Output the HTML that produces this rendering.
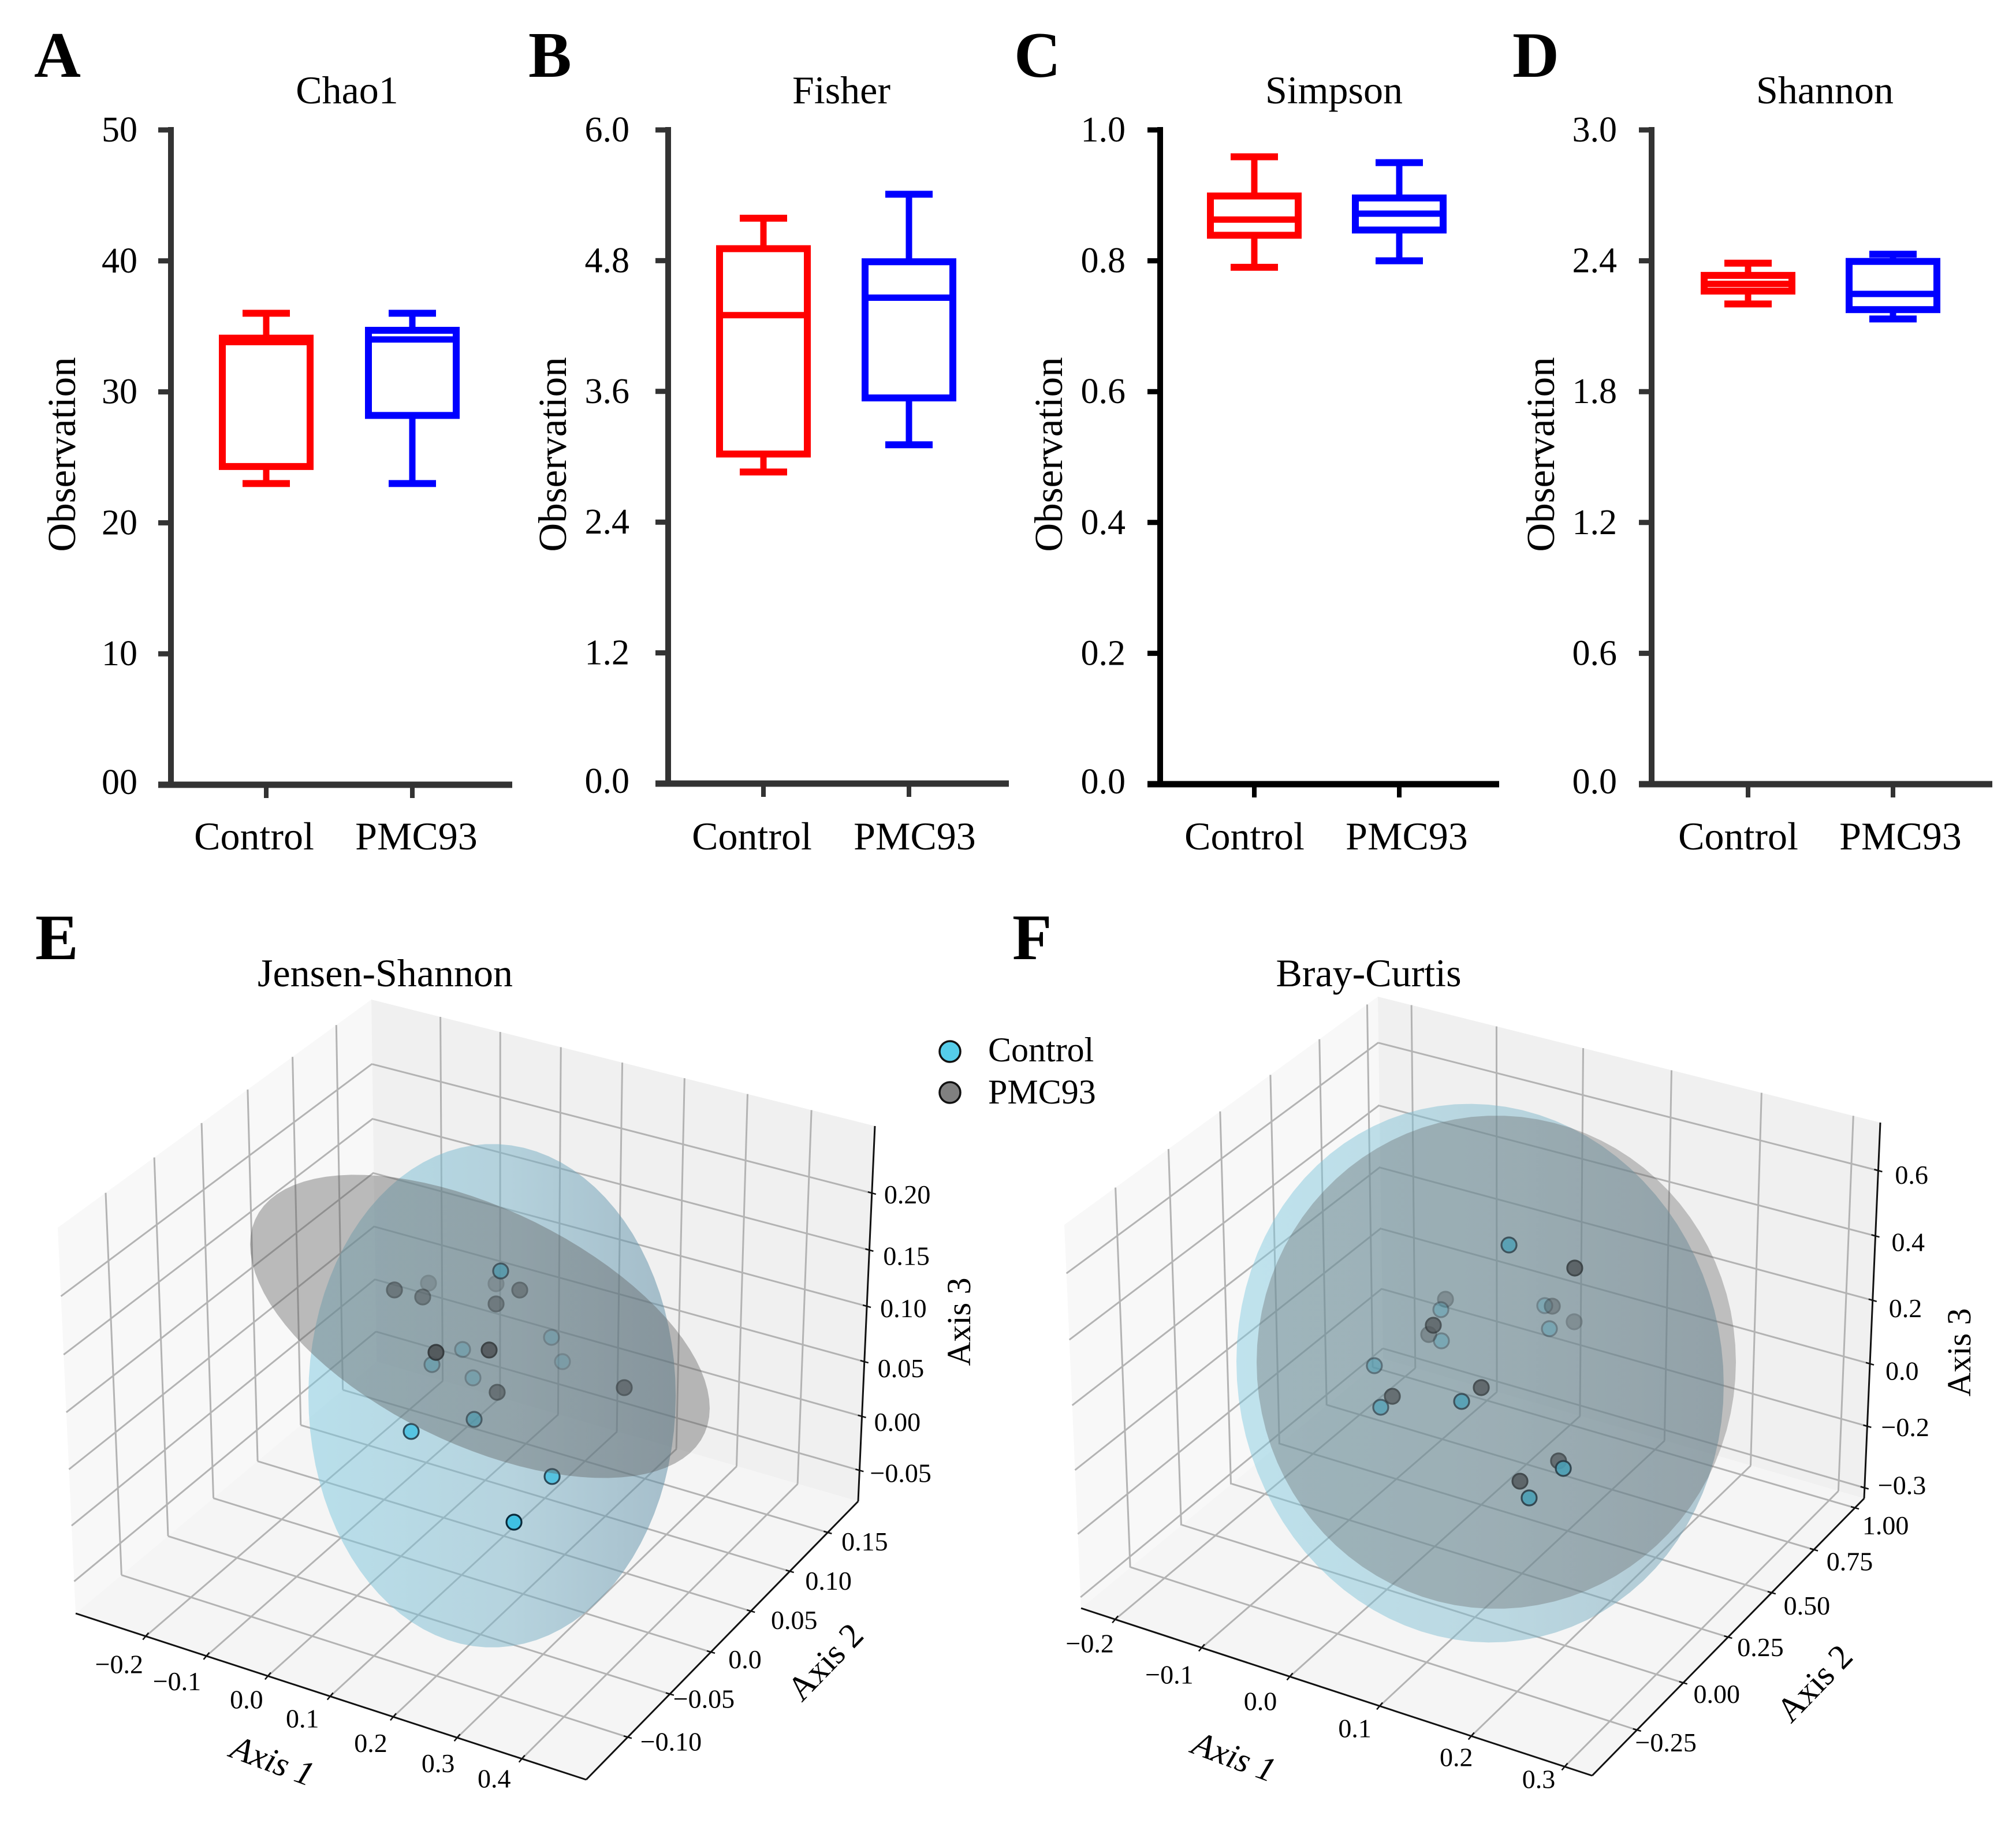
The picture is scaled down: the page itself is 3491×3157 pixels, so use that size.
<!DOCTYPE html>
<html lang="en">
<head>
<meta charset="utf-8">
<title>Alpha and beta diversity: Control vs PMC93</title>
<style>
html,body{margin:0;padding:0;background:#fff}
svg{display:block}
text{font-family:"Liberation Serif","DejaVu Serif",serif;fill:#000}
.letter{font-size:112px;font-weight:bold}
.title{font-size:68px;text-anchor:middle}
.ylab{font-size:69px;text-anchor:middle}
.xcat{font-size:68px;text-anchor:middle}
.ytick{font-size:62px;text-anchor:end}
.t3d{font-size:46px}
.a3d{font-size:60px;text-anchor:middle;dominant-baseline:central}
.leg{font-size:60px}
</style>
</head>
<body>
<svg id="figure" xmlns="http://www.w3.org/2000/svg" width="3491" height="3157" viewBox="0 0 3491 3157">
<defs>
<linearGradient id="blueFillE"><stop offset="0" stop-color="#7cc9e0" stop-opacity=".5"/><stop offset=".55" stop-color="#7cb4c9" stop-opacity=".52"/><stop offset="1" stop-color="#5c8ba3" stop-opacity=".52"/></linearGradient>
<linearGradient id="grayFillE"><stop offset="0" stop-color="#5c5c5c" stop-opacity=".4"/><stop offset="1" stop-color="#5c5c5c" stop-opacity=".4"/></linearGradient>
<linearGradient id="blueFillF"><stop offset="0" stop-color="#7cc9e0" stop-opacity=".46"/><stop offset=".55" stop-color="#7cb8cc" stop-opacity=".48"/><stop offset="1" stop-color="#6a98ad" stop-opacity=".5"/></linearGradient>
<linearGradient id="grayFillF"><stop offset="0" stop-color="#616161" stop-opacity=".35"/><stop offset="1" stop-color="#616161" stop-opacity=".35"/></linearGradient>
</defs>
<rect width="3491" height="3157" fill="#fff"/>

<text class="letter" x="59" y="133">A</text>
<text class="letter" x="915" y="133">B</text>
<text class="letter" x="1756" y="133">C</text>
<text class="letter" x="2619" y="133">D</text>
<text class="letter" x="61" y="1661">E</text>
<text class="letter" x="1753" y="1661">F</text>

<text class="title" x="601" y="179">Chao1</text>
<text class="title" x="1457" y="179">Fisher</text>
<text class="title" x="2310" y="179">Simpson</text>
<text class="title" x="3160" y="179">Shannon</text>
<text class="title" x="667" y="1708">Jensen-Shannon</text>
<text class="title" x="2370" y="1708">Bray-Curtis</text>

<text class="ylab" transform="translate(130 787) rotate(-90)">Observation</text>
<text class="ylab" transform="translate(980 787) rotate(-90)">Observation</text>
<text class="ylab" transform="translate(1839 787) rotate(-90)">Observation</text>
<text class="ylab" transform="translate(2691 787) rotate(-90)">Observation</text>

<g id="boxLayer"></g>
<g id="layer3d"></g>

<text class="a3d" font-style="italic" transform="translate(472 3049) rotate(20.5)">Axis 1</text>
<text class="a3d" transform="translate(1429 2878) rotate(-46)">Axis 2</text>
<text class="a3d" style="font-size:58px;dominant-baseline:auto" transform="translate(1680 2289) rotate(-90)">Axis 3</text>
<text class="a3d" font-style="italic" transform="translate(2137 3042) rotate(20.5)">Axis 1</text>
<text class="a3d" transform="translate(3142 2915) rotate(-46)">Axis 2</text>
<text class="a3d" style="font-size:58px;dominant-baseline:auto" transform="translate(3412 2342) rotate(-90)">Axis 3</text>

<g>
<circle cx="1645" cy="1821" r="18" fill="#55cdea" stroke="#111" stroke-width="3.5"/>
<text class="leg" x="1711" y="1838">Control</text>
<circle cx="1645" cy="1892" r="18" fill="#808080" stroke="#111" stroke-width="3.5"/>
<text class="leg" x="1711" y="1911">PMC93</text>
</g>
</svg>

<script>
/* ---------- Box plot data: [low whisker, Q1, median, Q3, high whisker] ---------- */
const boxCategories = ['Control', 'PMC93'];
const chao1Control = [23, 24.3, 33.8, 34.1, 36];
const chao1Pmc93 = [23, 28.2, 34, 34.7, 36];
const fisherControl = [2.86, 3.025, 4.30, 4.91, 5.19];
const fisherPmc93 = [3.11, 3.54, 4.46, 4.79, 5.41];
const simpsonControl = [0.79, 0.839, 0.863, 0.899, 0.959];
const simpsonPmc93 = [0.80, 0.847, 0.872, 0.896, 0.95];
const shannonControl = [2.202, 2.261, 2.294, 2.333, 2.389];
const shannonPmc93 = [2.133, 2.176, 2.248, 2.397, 2.43];
const chao1Ticks = [0, 10, 20, 30, 40, 50];
const chao1TickLabels = ['00', '10', '20', '30', '40', '50'];
const fisherTicks = [0, 1.2, 2.4, 3.6, 4.8, 6];
const fisherTickLabels = ['0.0', '1.2', '2.4', '3.6', '4.8', '6.0'];
const simpsonTicks = [0, 0.2, 0.4, 0.6, 0.8, 1];
const simpsonTickLabels = ['0.0', '0.2', '0.4', '0.6', '0.8', '1.0'];
const shannonTicks = [0, 0.6, 1.2, 1.8, 2.4, 3];
const shannonTickLabels = ['0.0', '0.6', '1.2', '1.8', '2.4', '3.0'];

/* ---------- Jensen-Shannon ordination ---------- */
const jsControlAxis1 = [0.2335, 0.0850, 0.0770, -0.0314, -0.0292, -0.0148, 0.1162, 0.1656, 0.3411, 0.3823];
const jsControlAxis2 = [-0.04, 0.14, 0.16, 0.12, 0.08, 0.12, -0.06, -0.02, -0.06, -0.14];
const jsControlAxis3 = [0.2493, 0.0288, -0.0093, 0.0111, 0.0276, -0.0113, 0.0982, 0.0886, 0.0995, 0.1254];
const jsPmcAxis1 = [-0.0381, -0.1368, -0.0185, -0.0290, 0.1364, 0.0986, 0.2068, 0.2661, 0.1514, 0.3542];
const jsPmcAxis2 = [0.04, 0.16, 0.06, 0.16, 0.06, 0.06, -0.10, -0.08, 0.02, 0.02];
const jsPmcAxis3 = [0.1226, 0.0215, 0.1051, 0.0410, 0.1401, 0.1206, 0.2157, 0.2140, 0.0807, 0.1225];
const jsAxis1Ticks = [-0.2, -0.1, 0, 0.1, 0.2, 0.3, 0.4];
const jsAxis1Labels = ['−0.2', '−0.1', '0.0', '0.1', '0.2', '0.3', '0.4'];
const jsAxis2Ticks = [-0.10, -0.05, 0, 0.05, 0.10, 0.15];
const jsAxis2Labels = ['−0.10', '−0.05', '0.0', '0.05', '0.10', '0.15'];
const jsAxis3Ticks = [-0.05, 0, 0.05, 0.10, 0.15, 0.20];
const jsAxis3Labels = ['−0.05', '0.00', '0.05', '0.10', '0.15', '0.20'];
/* ellipsoid silhouettes: [centre axis1, centre axis3, u axis1, u axis3, v axis1, v axis3] */
const jsControlEllipsoid = [0.1687, 0.0956, 0.2931, 0.0544, 0, 0.2261];
const jsPmcEllipsoid = [0.1493, 0.1543, 0.3668, -0.0055, 0, 0.1146];

/* ---------- Bray-Curtis ordination ---------- */
const brayControlAxis1 = [0.1582, 0.0231, 0.0477, -0.0731, -0.0725, -0.0888, -0.0234, 0.1055, 0.2575, 0.2195];
const brayControlAxis2 = [-0.05, 0.85, 0.75, 0.75, 0.75, 0.45, 0.15, -0.05, -0.25, -0.25];
const brayControlAxis3 = [0.8290, 0.0123, 0.0180, -0.0321, -0.1296, -0.0548, 0.0419, 0.2893, 0.3290, 0.2018];
const brayPmcAxis1 = [-0.0874, 0.0351, -0.0866, 0.0509, 0.0364, 0.2314, -0.0105, 0.1079, 0.1745, 0.1704];
const brayPmcAxis2 = [0.85, 0.15, 0.75, 0.75, 0.95, -0.05, 0.15, 0.05, 0.15, -0.05];
const brayPmcAxis3 = [-0.0684, 0.3528, -0.1225, 0.0918, -0.0822, 0.8232, 0.0880, 0.2791, 0.0534, 0.0978];
const brayAxis1Ticks = [-0.2, -0.1, 0, 0.1, 0.2, 0.3];
const brayAxis1Labels = ['−0.2', '−0.1', '0.0', '0.1', '0.2', '0.3'];
const brayAxis2Ticks = [-0.25, 0, 0.25, 0.5, 0.75, 1];
const brayAxis2Labels = ['−0.25', '0.00', '0.25', '0.50', '0.75', '1.00'];
const brayAxis3Ticks = [-0.4, -0.2, 0, 0.2, 0.4, 0.6];
const brayAxis3Labels = ['−0.3', '−0.2', '0.0', '0.2', '0.4', '0.6'];
const brayControlEllipsoid = [0.1163, 0.3601, 0.2712, 0.2107, 0, 0.8457];
const brayPmcEllipsoid = [0.1343, 0.4109, 0.2667, 0.2430, 0, 0.7750];

/* ---------- helpers ---------- */
const NS = 'http://www.w3.org/2000/svg';
function mk(parent, tag, attrs, txt) {
  const e = document.createElementNS(NS, tag);
  for (const k in attrs) e.setAttribute(k, attrs[k]);
  if (txt !== undefined) e.textContent = txt;
  parent.appendChild(e);
  return e;
}

/* ---------- Box plots ---------- */
const RED = '#ff0000', BLUE = '#0000ff';
const boxPanels = [
  {id: 'chao1', ctl: chao1Control, pmc: chao1Pmc93, ticks: chao1Ticks, labels: chao1TickLabels, max: 50, ax: 296, top: 225, bot: 1359, right: 887, cx: [461, 714], lx: [440, 721], tl: 238, col: '#333'},
  {id: 'fisher', ctl: fisherControl, pmc: fisherPmc93, ticks: fisherTicks, labels: fisherTickLabels, max: 6, ax: 1157, top: 225, bot: 1357, right: 1747, cx: [1322, 1574], lx: [1302, 1584], tl: 1090, col: '#333'},
  {id: 'simpson', ctl: simpsonControl, pmc: simpsonPmc93, ticks: simpsonTicks, labels: simpsonTickLabels, max: 1, ax: 2009, top: 225, bot: 1358, right: 2596, cx: [2172, 2423], lx: [2155, 2436], tl: 1949, col: '#000'},
  {id: 'shannon', ctl: shannonControl, pmc: shannonPmc93, ticks: shannonTicks, labels: shannonTickLabels, max: 3, ax: 2860, top: 225, bot: 1358, right: 3450, cx: [3027, 3278], lx: [3010, 3291], tl: 2800, col: '#333'}
];
const boxLayer = document.getElementById('boxLayer');
boxPanels.forEach(function (p) {
  const g = mk(boxLayer, 'g', {});
  
  
  const yScale = function (v) { return p.bot - (v / p.max) * (p.bot - p.top); };

  p.ticks.forEach(function (t, i) {
    const tk = mk(g, 'line', {x1: p.ax - 22, x2: p.ax, y1: yScale(t), y2: yScale(t), stroke: p.col, 'stroke-width': 9});
    
    
    const lb = mk(g, 'text', {class: 'ytick', x: p.tl, y: yScale(t) + (t === 0 ? 16 : 20)}, p.labels[i]);
    
    
  });
  const ya = mk(g, 'line', {x1: p.ax, x2: p.ax, y1: p.top - 5, y2: p.bot + 5, stroke: p.col, 'stroke-width': 10});
  
  
  const xa = mk(g, 'line', {x1: p.ax - 22, x2: p.right, y1: p.bot, y2: p.bot, stroke: p.col, 'stroke-width': 11});
  
  

  [p.ctl, p.pmc].forEach(function (d, i) {
    const cx = p.cx[i], col = i === 0 ? RED : BLUE, halfBox = 76, halfCap = 41;
    const tk = mk(g, 'line', {x1: cx, x2: cx, y1: p.bot, y2: p.bot + 23, stroke: p.col, 'stroke-width': 8});
    
    
    const lb = mk(g, 'text', {class: 'xcat', x: p.lx[i], y: 1471}, boxCategories[i]);
    
    

    const box = mk(g, 'g', {});
    
    
    const w1 = mk(box, 'line', {x1: cx, x2: cx, y1: yScale(d[0]), y2: yScale(d[1]), stroke: col, 'stroke-width': 11});
    
    
    const w2 = mk(box, 'line', {x1: cx, x2: cx, y1: yScale(d[4]), y2: yScale(d[3]), stroke: col, 'stroke-width': 11});
    
    
    const r = mk(box, 'rect', {x: cx - halfBox, width: 2 * halfBox, y: yScale(d[3]), height: yScale(d[1]) - yScale(d[3]), fill: 'none', stroke: col, 'stroke-width': 12});
    
    
    const m = mk(box, 'line', {x1: cx - halfBox, x2: cx + halfBox, y1: yScale(d[2]), y2: yScale(d[2]), stroke: col, 'stroke-width': 11});
    
    
    const c1 = mk(box, 'line', {x1: cx - halfCap, x2: cx + halfCap, y1: yScale(d[0]), y2: yScale(d[0]), stroke: col, 'stroke-width': 12});
    
    
    const c2 = mk(box, 'line', {x1: cx - halfCap, x2: cx + halfCap, y1: yScale(d[4]), y2: yScale(d[4]), stroke: col, 'stroke-width': 12});
    
    
  });
});

/* ---------- 3D panels ---------- */
function quadMap(p0, p1, p2, p3) {
  const dx1 = p1[0] - p2[0], dx2 = p3[0] - p2[0], sx = p0[0] - p1[0] + p2[0] - p3[0];
  const dy1 = p1[1] - p2[1], dy2 = p3[1] - p2[1], sy = p0[1] - p1[1] + p2[1] - p3[1];
  const den = dx1 * dy2 - dx2 * dy1;
  const g = (sx * dy2 - dx2 * sy) / den, h = (dx1 * sy - sx * dy1) / den;
  const a = p1[0] - p0[0] + g * p1[0], b = p3[0] - p0[0] + h * p3[0], c = p0[0];
  const d = p1[1] - p0[1] + g * p1[1], e = p3[1] - p0[1] + h * p3[1], f = p0[1];
  return function (u, v) {
    const w = g * u + h * v + 1;
    return [(a * u + b * v + c) / w, (d * u + e * v + f) / w];
  };
}
const panels3d = [
  {
    id: 'js', blue: 'url(#blueFillE)', gray: 'url(#grayFillE)',
    c: {left: [131, 2794], front: [1015, 3082], right: [1486, 2600], back: [652, 2358], topLeft: [100, 2126], topBack: [643, 1731], topRight: [1515, 1950]},
    lim1: [-0.317, 0.498], lim2: [-0.148, 0.191], lim3: [-0.079, 0.258],
    ticks1: jsAxis1Ticks, labels1: jsAxis1Labels, ticks2: jsAxis2Ticks, labels2: jsAxis2Labels, ticks3: jsAxis3Ticks, labels3: jsAxis3Labels,
    off1: [[-46, 64], [-51, 59], [-37, 56], [-48, 54], [-39, 61], [-33, 60], [-48, 50]],
    off2: [[75, 23], [59, 24], [59, 28], [75, 31], [67, 32], [64, 31]],
    off3: [[18, 20], [21, 25], [23, 27], [23, 19], [24, 26], [21, 18]],
    origin: [669, 2541], v1: [1085, 358], v2: [1384, -1428], v3: -1928,
    shadeA: 0.65, shadeB: 2.5,
    ctl: [jsControlAxis1, jsControlAxis2, jsControlAxis3], pmc: [jsPmcAxis1, jsPmcAxis2, jsPmcAxis3],
    ellCtl: jsControlEllipsoid, ellPmc: jsPmcEllipsoid
  },
  {
    id: 'bray', blue: 'url(#blueFillF)', gray: 'url(#grayFillF)',
    c: {left: [1872, 2785], front: [2757, 3075], right: [3228, 2595], back: [2395, 2353], topLeft: [1843, 2121], topBack: [2386, 1726], topRight: [3256, 1944]},
    lim1: [-0.24, 0.329], lim2: [-0.485, 1.057], lim3: [-0.435, 0.745],
    ticks1: brayAxis1Ticks, labels1: brayAxis1Labels, ticks2: brayAxis2Ticks, labels2: brayAxis2Labels, ticks3: brayAxis3Ticks, labels3: brayAxis3Labels,
    off1: [[-44, 57], [-56, 62], [-51, 58], [-43, 54], [-26, 52], [-45, 37]],
    off2: [[50, 37], [58, 35], [56, 33], [61, 38], [62, 36], [53, 46]],
    off3: [[23, 11], [24, 17], [27, 28], [28, 29], [28, 26], [29, 23]],
    origin: [2382, 2518], v1: [1556, 502], v2: [302.4, -308], v3: -551,
    shadeA: 0.775, shadeB: 0.5,
    ctl: [brayControlAxis1, brayControlAxis2, brayControlAxis3], pmc: [brayPmcAxis1, brayPmcAxis2, brayPmcAxis3],
    ellCtl: brayControlEllipsoid, ellPmc: brayPmcEllipsoid
  }
];
const layer3d = document.getElementById('layer3d');
function poly(pts) { return pts.map(function (p) { return p[0] + ',' + p[1]; }).join(' '); }

panels3d.forEach(function (p) {
  const g = mk(layer3d, 'g', {});
  
  
  const c = p.c;
  const norm = function (v, lim) { return (v - lim[0]) / (lim[1] - lim[0]); };
  const project = function (a1, a2, a3) {
    return [p.origin[0] + p.v1[0] * a1 + p.v2[0] * a2, p.origin[1] + p.v1[1] * a1 + p.v2[1] * a2 + p.v3 * a3];
  };
  const floorMap = quadMap(c.left, c.front, c.right, c.back);
  const leftMap = quadMap(c.left, c.back, c.topBack, c.topLeft);
  const backMap = quadMap(c.back, c.right, c.topRight, c.topBack);

  const paneL = mk(g, 'polygon', {points: poly([c.left, c.back, c.topBack, c.topLeft]), fill: '#f8f8f8'});
  
  
  const paneB = mk(g, 'polygon', {points: poly([c.back, c.right, c.topRight, c.topBack]), fill: '#f0f0f0'});
  
  
  const paneF = mk(g, 'polygon', {points: poly([c.left, c.front, c.right, c.back]), fill: '#f5f5f5'});
  
  

  const gridLine = function (a, b) {
    const l = mk(g, 'line', {x1: a[0], y1: a[1], x2: b[0], y2: b[1], stroke: '#b3b3b3', 'stroke-width': 3});
    
    
  };
  p.ticks1.forEach(function (t) {
    const u = norm(t, p.lim1);
    gridLine(floorMap(u, 0), floorMap(u, 1));
    gridLine(backMap(u, 0), backMap(u, 1));
  });
  p.ticks2.forEach(function (t) {
    const v = norm(t, p.lim2);
    gridLine(floorMap(0, v), floorMap(1, v));
    gridLine(leftMap(v, 0), leftMap(v, 1));
  });
  p.ticks3.forEach(function (t) {
    const v = norm(t, p.lim3);
    gridLine(leftMap(0, v), leftMap(1, v));
    gridLine(backMap(0, v), backMap(1, v));
  });

  const ellipsoid = function (e, fill, name) {
    let d = '';
    for (let deg = 0; deg < 360; deg += 4) {
      const t = deg * Math.PI / 180;
      const a1 = e[0] + e[2] * Math.cos(t) + e[4] * Math.sin(t);
      const a3 = e[1] + e[3] * Math.cos(t) + e[5] * Math.sin(t);
      const q = project(a1, 0, a3);
      d += (deg === 0 ? 'M' : 'L') + q[0].toFixed(1) + ' ' + q[1].toFixed(1);
    }
    const s = mk(g, 'path', {d: d + 'Z', fill: fill});
    
    
  };
  ellipsoid(p.ellCtl, p.blue, p.id + '-control-ellipsoid');

  const marks = [];
  [[p.ctl, '#3fc0e2', '#0a2a3a', 'control'], [p.pmc, '#454d52', '#10181c', 'pmc93']].forEach(function (s) {
    s[0][0].forEach(function (_, i) {
      marks.push({a1: s[0][0][i], a2: s[0][1][i], a3: s[0][2][i], fill: s[1], edge: s[2], group: s[3]});
    });
  });
  marks.sort(function (m, n) { return n.a2 - m.a2; });
  marks.forEach(function (m) {
    const q = project(m.a1, m.a2, m.a3);
    const shade = Math.max(0.25, Math.min(1, p.shadeA - p.shadeB * m.a2));
    const dot = mk(g, 'circle', {cx: q[0], cy: q[1], r: 13, fill: m.fill, stroke: m.edge, 'stroke-width': 3.2, opacity: shade});
    
    
  });

  ellipsoid(p.ellPmc, p.gray, p.id + '-pmc93-ellipsoid');

  const axisLine = function (a, b, name) {
    const l = mk(g, 'line', {x1: a[0], y1: a[1], x2: b[0], y2: b[1], stroke: '#111', 'stroke-width': 3});
    
    
  };
  axisLine(c.left, c.front, p.id + '-axis-1-line');
  axisLine(c.front, c.right, p.id + '-axis-2-line');
  axisLine(c.right, c.topRight, p.id + '-axis-3-line');

  const tickMark = function (q, dx, dy, name) {
    const l = mk(g, 'line', {x1: q[0] - dx, y1: q[1] - dy, x2: q[0] + dx, y2: q[1] + dy, stroke: '#111', 'stroke-width': 2.5});
    
    
  };
  const tickLabel = function (q, off, txt, anchor, name) {
    const l = mk(g, 'text', {class: 't3d', x: q[0] + off[0], y: q[1] + off[1], 'text-anchor': anchor}, txt);
    
    
  };
  p.ticks1.forEach(function (t, i) {
    const q = floorMap(norm(t, p.lim1), 0);
    tickMark(q, 5, -6, p.id + '-axis-1-tick');
    tickLabel(q, p.off1[i], p.labels1[i], 'middle', p.id + '-axis-1-tick-label');
  });
  p.ticks2.forEach(function (t, i) {
    const q = floorMap(1, norm(t, p.lim2));
    tickMark(q, 7, 2, p.id + '-axis-2-tick');
    tickLabel(q, p.off2[i], p.labels2[i], 'middle', p.id + '-axis-2-tick-label');
  });
  p.ticks3.forEach(function (t, i) {
    const q = backMap(1, norm(t, p.lim3));
    tickMark(q, 7, 2, p.id + '-axis-3-tick');
    tickLabel(q, p.off3[i], p.labels3[i], 'start', p.id + '-axis-3-tick-label');
  });
});
</script>
</body>
</html>
